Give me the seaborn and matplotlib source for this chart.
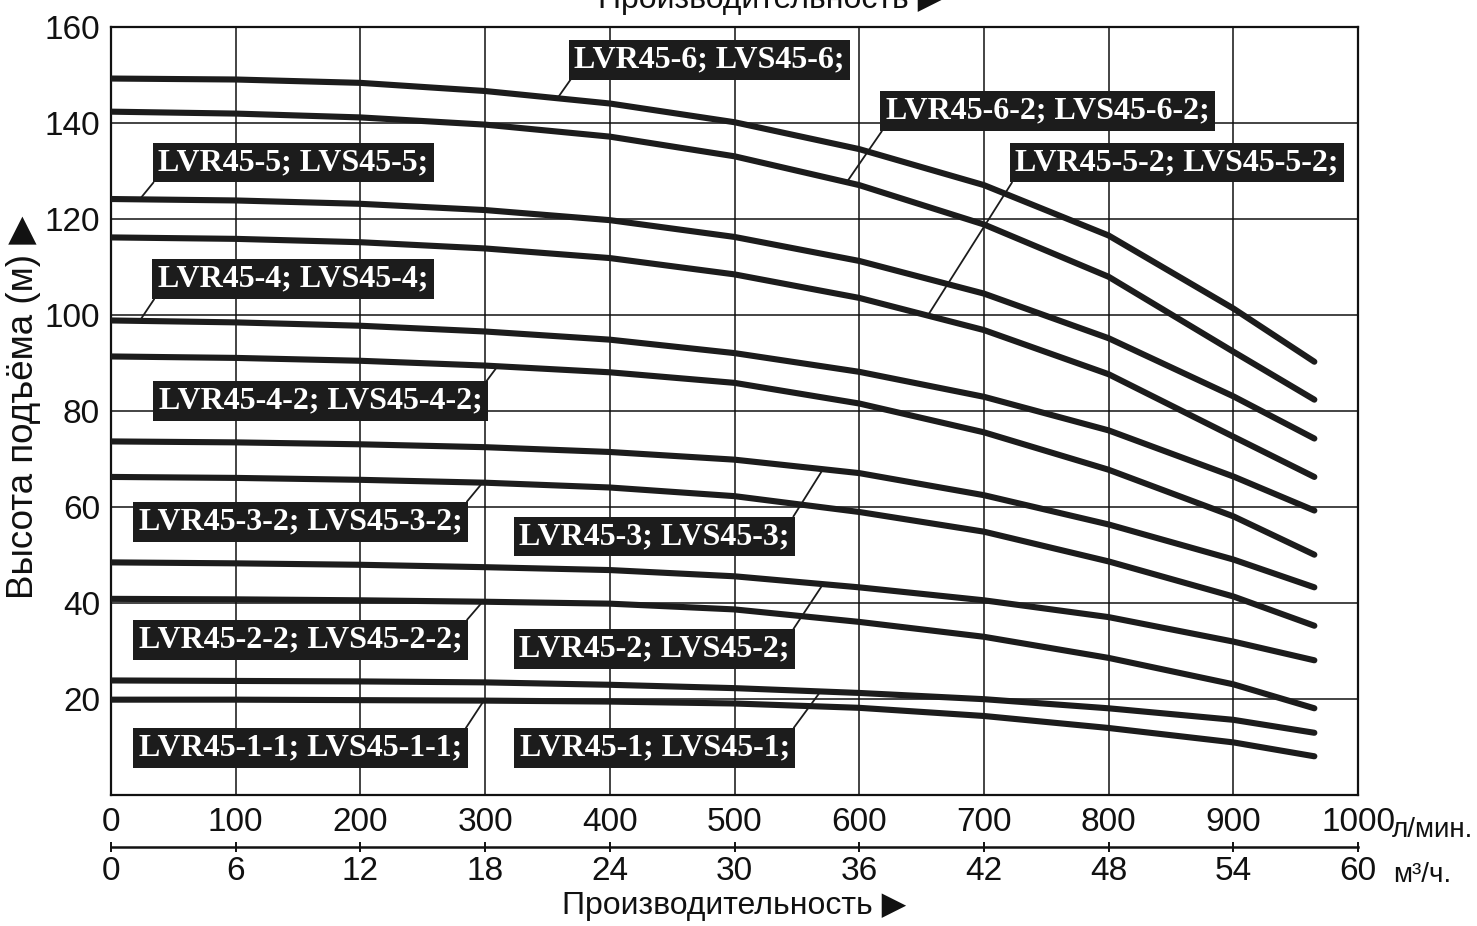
import numpy as np
import pandas as pd
import matplotlib
matplotlib.use("Agg")
import matplotlib.pyplot as plt
import seaborn as sns

# ---------------- data ----------------
flow_lpm = [0, 100, 200, 300, 400, 500, 600, 700, 800, 900, 965]

models = [
    "LVR45-6; LVS45-6;", "LVR45-6-2; LVS45-6-2;",
    "LVR45-5; LVS45-5;", "LVR45-5-2; LVS45-5-2;",
    "LVR45-4; LVS45-4;", "LVR45-4-2; LVS45-4-2;",
    "LVR45-3; LVS45-3;", "LVR45-3-2; LVS45-3-2;",
    "LVR45-2; LVS45-2;", "LVR45-2-2; LVS45-2-2;",
    "LVR45-1; LVS45-1;", "LVR45-1-1; LVS45-1-1;",
]

head_6   = [149.2, 149.0, 148.3, 146.6, 144.0, 140.1, 134.5, 127.0, 116.5, 101.3, 90.2]
head_6_2 = [142.3, 141.9, 141.1, 139.6, 137.1, 133.0, 127.0, 118.8, 107.9, 92.3, 82.3]
head_5   = [124.1, 123.8, 123.1, 121.8, 119.7, 116.2, 111.2, 104.4, 95.1, 83.0, 74.2]
head_5_2 = [116.1, 115.8, 115.1, 113.8, 111.8, 108.4, 103.5, 96.8, 87.6, 74.6, 66.2]
head_4   = [98.8, 98.4, 97.7, 96.5, 94.8, 92.0, 88.1, 82.9, 75.9, 66.3, 59.2]
head_4_2 = [91.3, 91.0, 90.4, 89.4, 88.0, 85.8, 81.5, 75.5, 67.7, 58.0, 50.0]
head_3   = [73.6, 73.4, 73.0, 72.4, 71.4, 69.8, 67.0, 62.4, 56.3, 49.0, 43.2]
head_3_2 = [66.2, 66.0, 65.6, 65.0, 64.0, 62.2, 58.9, 54.8, 48.6, 41.3, 35.2]
head_2   = [48.4, 48.2, 47.9, 47.4, 46.8, 45.5, 43.2, 40.5, 37.0, 31.9, 28.0]
head_2_2 = [40.8, 40.7, 40.5, 40.2, 39.8, 38.6, 36.0, 32.9, 28.5, 23.0, 18.0]
head_1   = [23.8, 23.7, 23.6, 23.4, 22.9, 22.2, 21.2, 19.9, 18.0, 15.6, 12.9]
head_1_1 = [19.8, 19.8, 19.7, 19.6, 19.4, 19.0, 18.1, 16.4, 13.9, 10.9, 8.0]

heads = [head_6, head_6_2, head_5, head_5_2, head_4, head_4_2,
         head_3, head_3_2, head_2, head_2_2, head_1, head_1_1]

x_ticks_lpm = [0, 100, 200, 300, 400, 500, 600, 700, 800, 900, 1000]
x_ticks_m3h = [0, 6, 12, 18, 24, 30, 36, 42, 48, 54, 60]
y_ticks = [20, 40, 60, 80, 100, 120, 140, 160]

# ---------------- layout of the labels (positions only) ----------------
label_center = [
    (480, 153.1), (751, 142.4), (146, 131.7), (855, 131.7),
    (146, 107.4), (168, 82.0), (436, 53.8), (152, 56.9),
    (436, 30.4), (152, 32.3), (436, 9.8), (152, 9.7),
]
leader_flow = [358, 590, 23, 655, 23, 310, 571, 298, 571, 298, 569, 299]
leader_corner = [(0, 0), (0, 0), (0, 0), (0, 0), (0, 0), (1, 1),
                 (1, 1), (1, 1), (1, 1), (1, 1), (1, 1), (1, 1)]

# ---------------- style ----------------
sns.set_theme(style="white")
sans = ["Liberation Sans", "DejaVu Sans"]
plt.rcParams["font.family"] = sans
INK = "#1c1c1c"
TXT = "#111111"

fig = plt.figure(figsize=(14.77, 9.26), dpi=100)
ax = fig.add_axes([111 / 1477, 1 - 794.7 / 926, 1247 / 1477, 768 / 926])

rows = []
for m, h in zip(models, heads):
    for f, v in zip(flow_lpm, h):
        rows.append({"model": m, "flow": f, "head": v})
df = pd.DataFrame(rows)

sns.lineplot(data=df, x="flow", y="head", units="model", estimator=None,
             color=INK, linewidth=4.4, sort=False, legend=False, ax=ax,
             zorder=3)
for ln in ax.get_lines():
    ln.set_solid_joinstyle("round")

ax.set_xlim(0, 1000)
ax.set_ylim(0, 160)
ax.set_xticks(x_ticks_lpm)
ax.set_yticks(y_ticks)
ax.set_xticklabels([str(t) for t in x_ticks_lpm])
ax.set_yticklabels([str(t) for t in y_ticks])
ax.grid(True, color=TXT, linewidth=1.1)
ax.set_axisbelow(True)
for s in ax.spines.values():
    s.set_visible(True)
    s.set_color(TXT)
    s.set_linewidth(1.6)
ax.tick_params(axis="both", length=0, labelsize=24, colors=TXT)
ax.tick_params(axis="x", pad=9)
ax.tick_params(axis="y", pad=8)
ax.set_xlabel("")

ax.set_ylabel("Высота подъёма (м) ▶", fontsize=26.5, color=TXT)
ax.yaxis.set_label_coords(-0.056, 0.505)

# second flow scale in m3/h
sec = ax.secondary_xaxis(-0.068, functions=(lambda x: x * 0.06, lambda x: x / 0.06))
sec.set_xticks(x_ticks_m3h)
sec.set_xticklabels([str(t) for t in x_ticks_m3h])
sec.spines["bottom"].set_linewidth(1.8)
sec.spines["bottom"].set_color(TXT)
sec.tick_params(axis="x", direction="inout", length=7, width=1.4, pad=3,
                labelsize=24, colors=TXT)
sec.set_xlabel("Производительность ▶", fontsize=23, labelpad=3, color=TXT)

# unit texts
ax.annotate("л/мин.", xy=(1, 0), xycoords="axes fraction", xytext=(34, -42),
            textcoords="offset pixels", ha="left", va="baseline",
            fontsize=20, color=TXT)
ax.annotate("м³/ч.", xy=(1, 0), xycoords="axes fraction", xytext=(35, -87),
            textcoords="offset pixels", ha="left", va="baseline",
            fontsize=20, color=TXT)

# cut-off title at the very top
fig.text(598 / 1477, 1 - 8 / 926, "Производительность ▶", fontsize=23,
         ha="left", va="baseline", color=TXT)

# model labels
for m, h, c, lf, rp in zip(models, heads, label_center, leader_flow, leader_corner):
    yv = float(np.interp(lf, flow_lpm, h))
    ax.annotate(m, xy=(lf, yv), xytext=c, textcoords="data",
                ha="center", va="center", color="white", fontsize=23,
                fontweight="bold", family=["Liberation Serif", "DejaVu Serif"],
                bbox=dict(boxstyle="square,pad=0.17", fc=INK, ec="none"),
                arrowprops=dict(arrowstyle="-", color=INK, lw=1.3,
                                shrinkA=0, shrinkB=0, relpos=rp),
                zorder=5)

fig.savefig("out.png", dpi=100, facecolor="white")
